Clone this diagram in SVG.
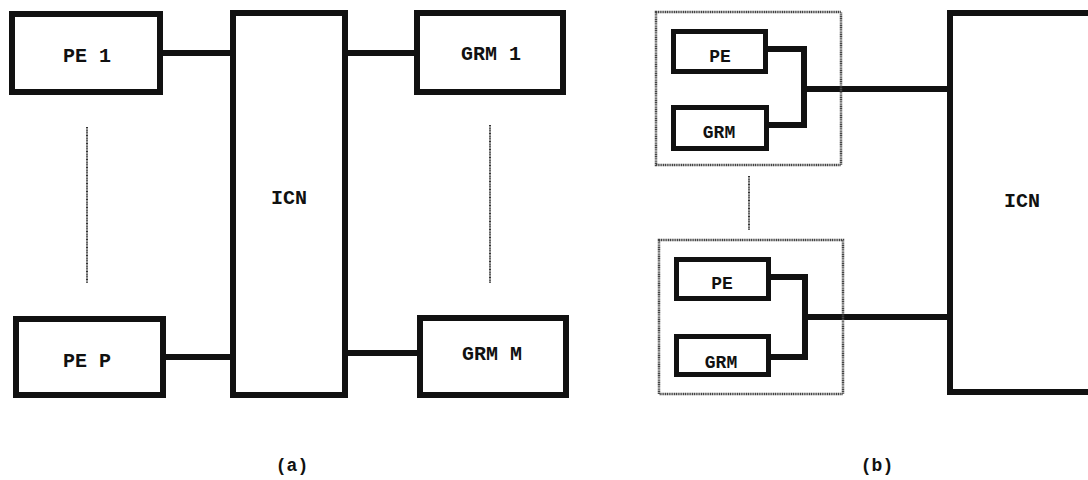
<svg xmlns="http://www.w3.org/2000/svg" width="1088" height="480" viewBox="0 0 1088 480">
  <style>
    .box { fill: #fff; stroke: #111; stroke-width: 6; }
    .ibox { fill: #fff; stroke: #111; stroke-width: 5; }
    .grp { fill: none; stroke: #444; stroke-width: 2.5; stroke-dasharray: 1.2 0.6; }
    .wire { fill: none; stroke: #111; stroke-width: 6; }
    .dots { fill: none; stroke: #333; stroke-width: 2; stroke-dasharray: 1 0.6; }
    text { font-family: "Liberation Mono", "DejaVu Sans Mono", monospace; font-weight: bold; fill: #111; text-anchor: middle; }
    .lbl { font-size: 20px; }
    .sm { font-size: 18px; }
  </style>
  <rect width="1088" height="480" fill="#fff"/>

  <g id="connectors">
    <line class="wire" x1="160" y1="53" x2="234" y2="53"/>
    <line class="wire" x1="163" y1="357" x2="234" y2="357"/>
    <line class="wire" x1="344" y1="53" x2="418" y2="53"/>
    <line class="wire" x1="344" y1="353" x2="421" y2="353"/>
    <line class="dots" x1="87" y1="127" x2="87" y2="283"/>
    <line class="dots" x1="490" y1="125" x2="490" y2="283"/>
    <line class="dots" x1="749" y1="176" x2="749" y2="230"/>
    <polyline class="wire" points="766,49 804,49 804,125 767,125"/>
    <line class="wire" x1="804" y1="89" x2="951" y2="89"/>
    <polyline class="wire" points="769,277 805,277 805,357 769,357"/>
    <line class="wire" x1="805" y1="317" x2="951" y2="317"/>
  </g>

  <g id="pe1"><rect class="box" x="12" y="14" width="148" height="78"/><text class="lbl" x="87" y="62">PE 1</text></g>
  <g id="pep"><rect class="box" x="16" y="319" width="147" height="76"/><text class="lbl" x="87" y="367">PE P</text></g>
  <g id="icn-a"><rect class="box" x="233" y="13" width="112" height="382"/><text class="lbl" x="289" y="204">ICN</text></g>
  <g id="grm1"><rect class="box" x="417" y="13" width="146" height="79"/><text class="lbl" x="491" y="60">GRM 1</text></g>
  <g id="grmm"><rect class="box" x="420" y="318" width="146" height="77"/><text class="lbl" x="492" y="360">GRM M</text></g>

  <g id="group1"><rect class="grp" x="656" y="12" width="185" height="153"/></g>
  <g id="pe-b1"><rect class="ibox" x="673.5" y="31.5" width="92" height="40"/><text class="sm" x="720" y="62">PE</text></g>
  <g id="grm-b1"><rect class="ibox" x="673.5" y="107.5" width="93" height="41"/><text class="sm" x="719" y="138">GRM</text></g>

  <g id="group2"><rect class="grp" x="659" y="240" width="184" height="154"/></g>
  <g id="pe-b2"><rect class="ibox" x="676.5" y="259.5" width="92" height="39"/><text class="sm" x="722" y="289">PE</text></g>
  <g id="grm-b2"><rect class="ibox" x="676.5" y="336.5" width="92" height="38"/><text class="sm" x="721" y="368">GRM</text></g>

  <g id="icn-b"><rect class="box" x="950" y="13" width="160" height="379"/><text class="lbl" x="1022" y="207">ICN</text></g>

  <g id="captions">
    <text class="sm" x="292" y="471">(a)</text>
    <text class="sm" x="877" y="471">(b)</text>
  </g>
</svg>
